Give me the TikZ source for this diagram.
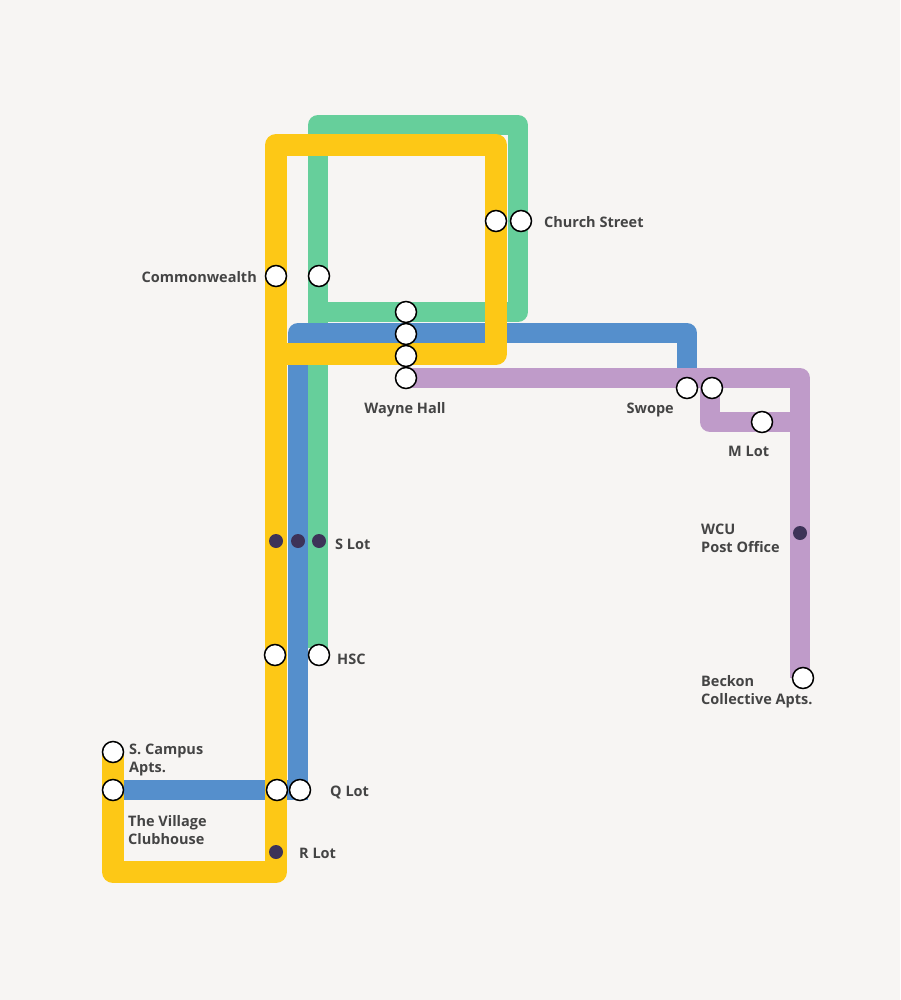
\documentclass[tikz,border=0pt]{standalone}
\usepackage{fontspec}
\setmainfont{Open Sans}
\definecolor{bg}{HTML}{F7F5F3}
\definecolor{ylw}{HTML}{FDC816}
\definecolor{grn}{HTML}{66CF9B}
\definecolor{blu}{HTML}{558FCC}
\definecolor{pur}{HTML}{BF9BC9}
\definecolor{dot}{HTML}{3D3358}
\definecolor{txt}{HTML}{444444}
\begin{document}
\begin{tikzpicture}[x=1pt,y=-1pt,
  line/.style={line width=20pt,line join=round},
  st/.style={circle,draw=black,line width=1.5pt,fill=white,minimum size=21pt,inner sep=0pt},
  dt/.style={circle,fill=dot,minimum size=14pt,inner sep=0pt},
  lb/.style={text=txt,font=\bfseries\fontsize{14.5}{18}\selectfont,inner sep=0pt,align=left}]
\fill[bg] (0,0) rectangle (900,1000);
\useasboundingbox (0,0) rectangle (900,1000);
% green
\draw[line,grn] (318,648) -- (318,125) -- (518,125) -- (518,312) -- (318,312);
% blue
\draw[line,blu] (687,388) -- (687,333) -- (298,333) -- (298,800);
\draw[line,blu] (308,790) -- (113,790);
% yellow
\draw[line,ylw,line width=22pt] (276,800) -- (276,145) -- (496,145) -- (496,354) -- (276,354);
\draw[line,ylw,line width=22pt] (276,780) -- (276,872) -- (113,872) -- (113,752);
% purple
\draw[line,pur] (406,378) -- (800,378) -- (800,678);
\draw[line,pur] (710,378) -- (710,422) -- (800,422);
% stations
\node[st] (cs1) at (496,221) {};
\node[st] (cs2) at (521,221) {};
\node[st] (cw1) at (276,276) {};
\node[st] (cw2) at (319,276) {};
\node[st] (wh1) at (406,312) {};
\node[st] (wh2) at (406,334) {};
\node[st] (wh3) at (406,356) {};
\node[st] (wh4) at (406,378) {};
\node[st] (sw1) at (687,388) {};
\node[st] (sw2) at (712,388) {};
\node[st] (ml) at (762,422) {};
\node[st] (hsc1) at (275,655) {};
\node[st] (hsc2) at (319,655) {};
\node[st] (q1) at (277,790) {};
\node[st] (q2) at (300,790) {};
\node[st] (sc) at (113,752) {};
\node[st] (vc) at (113,790) {};
\node[st] (bk) at (803,678) {};
\node[dt] (s1) at (276,541) {};
\node[dt] (s2) at (298,541) {};
\node[dt] (s3) at (319,541) {};
\node[dt] (rl) at (276,852) {};
\node[dt] (wcu) at (800,533) {};
% labels
\node[lb,anchor=west] (lcs) at (544,222) {Church Street};
\node[lb,anchor=east] (lcw) at (257,277) {Commonwealth};
\node[lb] (lwh) at (405,410) {Wayne Hall};
\node[lb,anchor=east] (lsw) at (674,410) {Swope};
\node[lb,anchor=west] (lml) at (728,451) {M Lot};
\node[lb,anchor=west] (lwcu) at (701,538) {WCU\\Post Office};
\node[lb,anchor=west] (lbk) at (701,692) {Beckon\\Collective Apts.};
\node[lb,anchor=west] (lsl) at (335,544) {S Lot};
\node[lb,anchor=west] (lhsc) at (337,659) {HSC};
\node[lb,anchor=west] (lq) at (330,792) {Q Lot};
\node[lb,anchor=west] (lr) at (299,853) {R Lot};
\node[lb,anchor=west] (lsc) at (129,760) {S. Campus\\Apts.};
\node[lb,anchor=west] (lvc) at (128,830) {The Village\\Clubhouse};
\end{tikzpicture}
\end{document}
